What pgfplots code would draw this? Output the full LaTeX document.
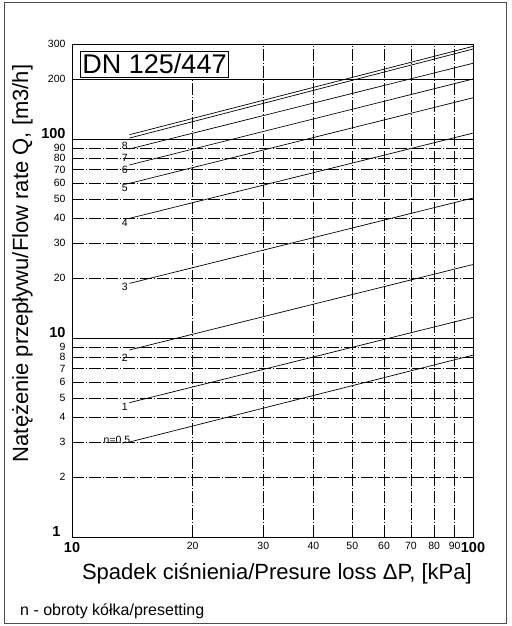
\documentclass[border=0pt]{standalone}
\usepackage{fontspec}
\setmainfont{Liberation Sans}
\usepackage{pgfplots}
\pgfplotsset{compat=1.18}

% font sizes (1px = 1pt)
\newcommand\smalltick{\fontsize{10.5}{12}\selectfont}
\newcommand\bigtick{\fontsize{14.5}{14}\selectfont\bfseries}
\newcommand\curvelab{\fontsize{10.5}{12}\selectfont}

\begin{document}
\begin{tikzpicture}
\path[use as bounding box] (0pt,0pt) rectangle (511pt,626pt);
\draw[line width=0.8pt, black!70] (4pt,2.5pt) rectangle (506.5pt,623.5pt);

\begin{axis}[
    at={(72pt,89pt)}, anchor=south west,
    width=401pt, height=493pt, scale only axis,
    xmode=log, ymode=log,
    xmin=10, xmax=100, ymin=1, ymax=300,
    xtick={20,30,40,50,60,70,80,90},
    xticklabels={20,30,40,50,60,70,80,90},
    extra x ticks={10,100},
    extra x tick labels={{\bigtick 10},{\bigtick 100}},
    ytick={2,3,4,5,6,7,8,9,20,30,40,50,60,70,80,90,300},
    yticklabels={2,3,4,5,6,7,8,9,20,30,40,50,60,70,80,90,300},
    extra y ticks={1,10,100,200},
    extra y tick labels={{\smash{\bigtick 1}\hspace*{5pt}},{\smash{\bigtick 10}},{\smash{\bigtick 100}},200},
    extra y tick style={major grid style={solid, black, line width=0.8pt}},
    grid=major,
    major grid style={black, line width=0.7pt, dash pattern=on 12pt off 2pt on 1pt off 2pt},
    minor tick num=0,
    major tick length=0pt,
    tick style={draw=none},
    axis line style={line width=0.9pt},
    ticklabel style={font=\smalltick},
    xticklabel style={yshift=-2pt},
    yticklabel style={xshift=-3pt},
    xlabel={Spadek ciśnienia/Presure loss ΔP, [kPa]},
    ylabel={Natężenie przepływu/Flow rate Q, [m3/h]},
    label style={font=\fontsize{22}{26}\selectfont},
    xlabel style={at={(axis description cs:0.511,-0.0872)}, anchor=base},
    ylabel style={at={(axis description cs:-0.1097,0.5548)}, anchor=base},
]
% presetting curves n = 8,5 ... 0,5
\addplot[black, line width=0.7pt] coordinates {(13.9,105) (100,292)};
\addplot[black, line width=0.7pt] coordinates {(13.9,101) (100,283)};
\addplot[black, line width=0.7pt] coordinates {(13.9,89) (100,240)};
\addplot[black, line width=0.7pt] coordinates {(13.9,74) (100,200)};
\addplot[black, line width=0.7pt] coordinates {(13.9,59.8) (100,161)};
\addplot[black, line width=0.7pt] coordinates {(13.9,39.9) (100,107)};
\addplot[black, line width=0.7pt] coordinates {(13.9,18.8) (100,50.5)};
\addplot[black, line width=0.7pt] coordinates {(13.9,8.7) (100,23.4)};
\addplot[black, line width=0.7pt] coordinates {(13.9,4.73) (100,12.7)};
\addplot[black, line width=0.7pt] coordinates {(13.9,3.0) (100,8.2)};

\node[font=\curvelab, anchor=west, inner sep=3pt] at (axis cs:100,292) {8,5};
\node[font=\curvelab, inner sep=0pt] at (axis cs:13.55,92.5) {8};
\node[font=\curvelab, inner sep=0pt] at (axis cs:13.55,80.3) {7};
\node[font=\curvelab, inner sep=0pt] at (axis cs:13.55,69.9) {6};
\node[font=\curvelab, inner sep=0pt] at (axis cs:13.55,56.7) {5};
\node[font=\curvelab, inner sep=0pt] at (axis cs:13.55,37.8) {4};
\node[font=\curvelab, inner sep=0pt] at (axis cs:13.55,18.1) {3};
\node[font=\curvelab, inner sep=0pt] at (axis cs:13.55,7.94) {2};
\node[font=\curvelab, inner sep=0pt] at (axis cs:13.55,4.52) {1};
\node[font=\curvelab, anchor=east, inner sep=0pt] at (axis cs:13.99,3.07) {n=0,5};

% title box
\fill[white] (rel axis cs:0.003,0.932) rectangle (rel axis cs:0.3898,0.997);
\draw[line width=0.8pt, fill=white] (rel axis cs:0.0217,0.9316) rectangle (rel axis cs:0.3898,0.9844);
\node[font=\fontsize{27}{27}\selectfont, inner sep=0pt] at (rel axis cs:0.2058,0.960) {DN 125/447};
\end{axis}

\node[anchor=base west, inner sep=0pt, font=\fontsize{16}{18}\selectfont] at (20pt,10pt) {n - obroty kółka/presetting};
\end{tikzpicture}
\end{document}
